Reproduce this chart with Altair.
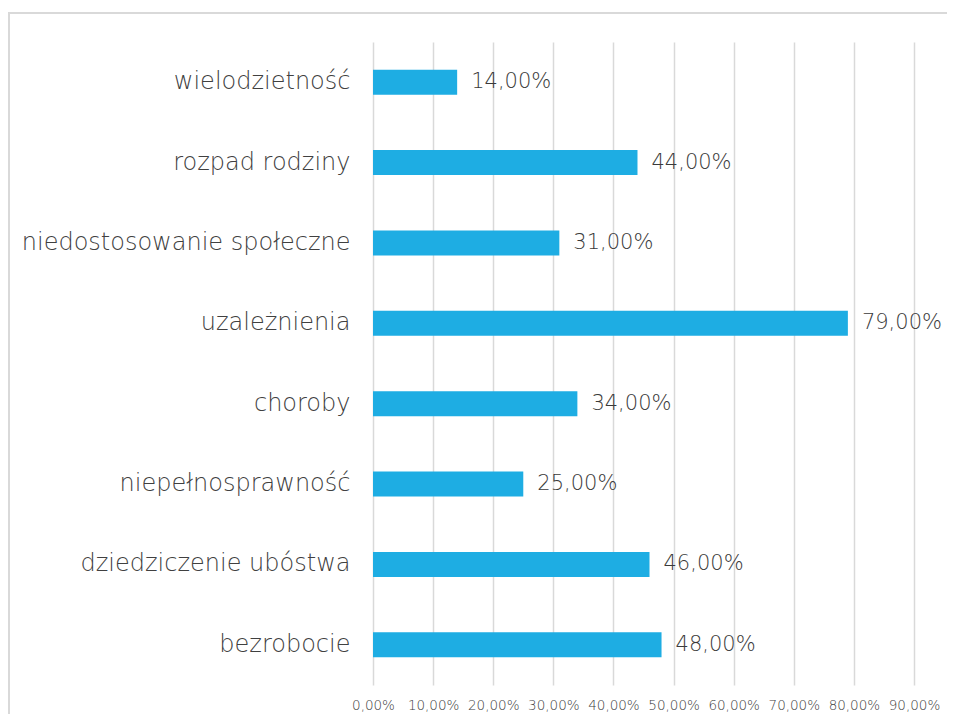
import altair as alt
import pandas as pd

categories = [
    "wielodzietność",
    "rozpad rodziny",
    "niedostosowanie społeczne",
    "uzależnienia",
    "choroby",
    "niepełnosprawność",
    "dziedziczenie ubóstwa",
    "bezrobocie",
]
values = [14, 44, 31, 79, 34, 25, 46, 48]
tick_values = [0, 10, 20, 30, 40, 50, 60, 70, 80, 90]

df = pd.DataFrame({"cat": categories, "val": values})

FONT = "DejaVu Sans"
BAR = "#1EADE3"
TXT = "#404040"

y_enc = alt.Y(
    "cat:N",
    sort=categories,
    title=None,
    scale=alt.Scale(paddingInner=0.69, paddingOuter=0.345),
    axis=alt.Axis(
        domain=False, ticks=False, grid=False,
        labelFont=FONT, labelFontSize=24, labelFontWeight=300, labelColor=TXT,
        labelPadding=23, labelLimit=400,
    ),
)
x_enc = alt.X(
    "val:Q",
    title=None,
    scale=alt.Scale(domain=[0, 90], nice=False),
    axis=alt.Axis(
        values=tick_values, domain=False, ticks=False,
        grid=True, gridColor="#d9d9d9", gridWidth=1.5,
        labelFont=FONT, labelFontSize=13.5, labelFontWeight=300, labelColor=TXT,
        labelPadding=13, labelOverlap=False, labelFlush=False,
        labelExpr="replace(format(datum.value, '.2f'), '.', ',') + '%'",
    ),
)

bars = alt.Chart(df).mark_bar(color=BAR).encode(x=x_enc, y=y_enc)

labels = alt.Chart(df).transform_calculate(
    lab="replace(format(datum.val, '.2f'), '.', ',') + '%'"
).mark_text(
    align="left", baseline="middle", dx=14, font=FONT, fontSize=21,
    fontWeight=300, color="#3a3a3a"
).encode(
    x=x_enc,
    y=y_enc,
    text="lab:N",
)

frame = alt.Chart(df).mark_rect(
    fill=None, stroke="#d9d9d9", strokeWidth=1.5
).encode(
    x=alt.value(-364), x2=alt.value(620), y=alt.value(-29), y2=alt.value(720)
)

chart = alt.layer(frame, bars, labels).properties(
    width=541,
    height=643,
    background="white",
    autosize=alt.AutoSizeParams(type="none"),
    padding={"left": 365, "top": 34, "right": 33, "bottom": 29},
).configure_view(stroke="transparent", strokeWidth=0)

chart.save("out.html", embed_options={"renderer": "svg", "actions": False})
